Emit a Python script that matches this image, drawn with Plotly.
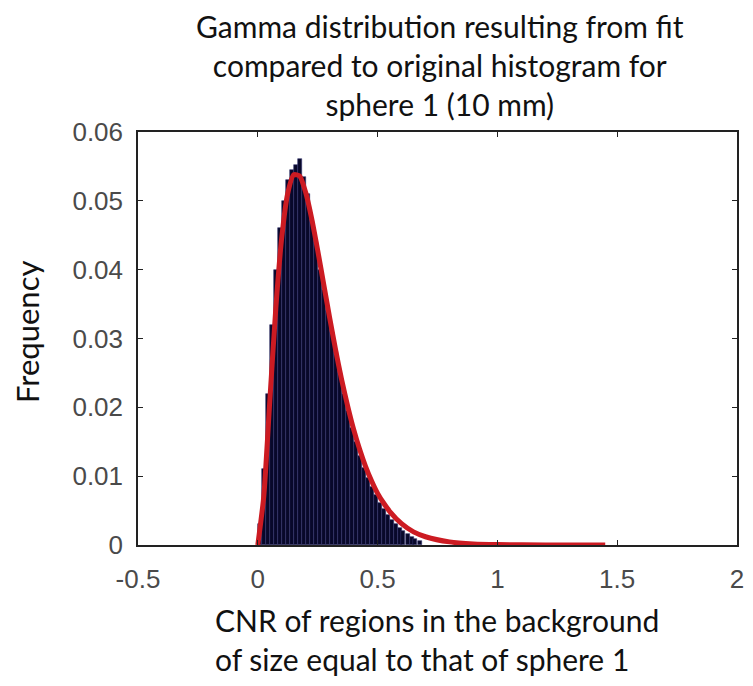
import plotly.graph_objects as go

# Histogram bins (relative frequency), bin width ~0.0167
bin_centers = [0.008, 0.025, 0.042, 0.058, 0.075, 0.092, 0.108, 0.125, 0.142, 0.158,
               0.175, 0.192, 0.208, 0.225, 0.242, 0.258, 0.275, 0.292, 0.308, 0.325,
               0.342, 0.358, 0.375, 0.392, 0.408, 0.425, 0.442, 0.458, 0.475, 0.492,
               0.508, 0.525, 0.542, 0.558, 0.575, 0.592, 0.608, 0.625, 0.642, 0.658,
               0.675]
bin_freq = [0.003, 0.011, 0.022, 0.032, 0.040, 0.046, 0.050, 0.053, 0.0545, 0.0552,
            0.0561, 0.0535, 0.051, 0.047, 0.044, 0.040, 0.037, 0.034, 0.031, 0.028,
            0.025, 0.022, 0.0195, 0.017, 0.0150, 0.0130, 0.0112, 0.0097, 0.0084, 0.0072,
            0.0061, 0.0052, 0.0044, 0.0037, 0.0030, 0.0025, 0.0020, 0.0016, 0.0012, 0.0009,
            0.0006]
bin_width = 0.0167

# Fitted gamma curve
fit_x = [0.0, 0.025, 0.05, 0.075, 0.1, 0.125, 0.15, 0.175, 0.2, 0.225, 0.25, 0.275,
         0.3, 0.325, 0.35, 0.375, 0.4, 0.425, 0.45, 0.475, 0.5, 0.525, 0.55, 0.6,
         0.65, 0.7, 0.8, 0.9, 1.0, 1.2, 1.45]
fit_y = [0.0, 0.0071, 0.0209, 0.0343, 0.0447, 0.0511, 0.0538, 0.0536, 0.0512, 0.0474,
         0.0428, 0.0379, 0.0330, 0.0283, 0.0240, 0.0202, 0.0168, 0.0139, 0.0114, 0.0093,
         0.0075, 0.0061, 0.0049, 0.0031, 0.0019, 0.0012, 0.00045, 0.00016, 0.00006,
         0.00001, 0.0]

x_tick_vals = [-0.5, 0, 0.5, 1, 1.5, 2]
x_tick_text = ["-0.5", "0", "0.5", "1", "1.5", "2"]
y_tick_vals = [0, 0.01, 0.02, 0.03, 0.04, 0.05, 0.06]
y_tick_text = ["0", "0.01", "0.02", "0.03", "0.04", "0.05", "0.06"]

title_text = "Gamma distribution resulting from fit<br>compared to original histogram for<br>sphere 1 (10 mm)"
xlabel_text = "CNR of regions in the background<br>of size equal to that of sphere 1"
ylabel_text = "Frequency"

fig = go.Figure()
fig.add_trace(go.Bar(
    x=bin_centers, y=bin_freq, width=bin_width,
    marker=dict(color="#08082a", line=dict(color="#34346e", width=0.6)),
    showlegend=False,
))
fig.add_trace(go.Scatter(
    x=fit_x, y=fit_y, mode="lines",
    line=dict(color="#cc1b22", width=5, shape="spline", smoothing=0.6),
    showlegend=False,
))

tick_font = dict(family="Liberation Sans, Arial, sans-serif", size=26, color="#4a4a4a")
label_font = dict(family="Lato, Open Sans, sans-serif", size=30, color="#111111")

# page body has an 8px margin, so the figure is sized to fit inside the window
fig.update_layout(
    width=737, height=670,
    margin=dict(l=130, r=8, t=124, b=133),
    plot_bgcolor="white", paper_bgcolor="white",
    bargap=0,
    xaxis=dict(range=[-0.5, 2], tickvals=x_tick_vals, ticktext=x_tick_text,
               ticks="inside", ticklen=5, tickcolor="#222", showgrid=False, zeroline=False,
               showline=True, linecolor="#222", linewidth=1.5, mirror="ticks",
               tickfont=tick_font, ticklabelstandoff=10, automargin=False),
    yaxis=dict(range=[0, 0.06], tickvals=y_tick_vals, ticktext=y_tick_text,
               ticks="inside", ticklen=5, tickcolor="#222", showgrid=False, zeroline=False,
               showline=True, linecolor="#222", linewidth=1.5, mirror="ticks",
               tickfont=tick_font, ticklabelstandoff=8, automargin=False),
    annotations=[
        dict(text=title_text, xref="paper", yref="paper", x=0.504, y=1.162,
             xanchor="center", yanchor="middle", showarrow=False, align="center",
             font=label_font),
        dict(text=xlabel_text, xref="paper", yref="paper", x=0.125, y=-0.2288,
             xanchor="left", yanchor="middle", showarrow=False, align="left",
             font=label_font),
        dict(text=ylabel_text, xref="paper", yref="paper", x=-0.1853, y=0.516,
             xanchor="center", yanchor="middle", showarrow=False, textangle=-90,
             font=dict(family="Lato, Open Sans, sans-serif", size=31, color="#111111")),
    ],
)

fig.write_html("out.html")
